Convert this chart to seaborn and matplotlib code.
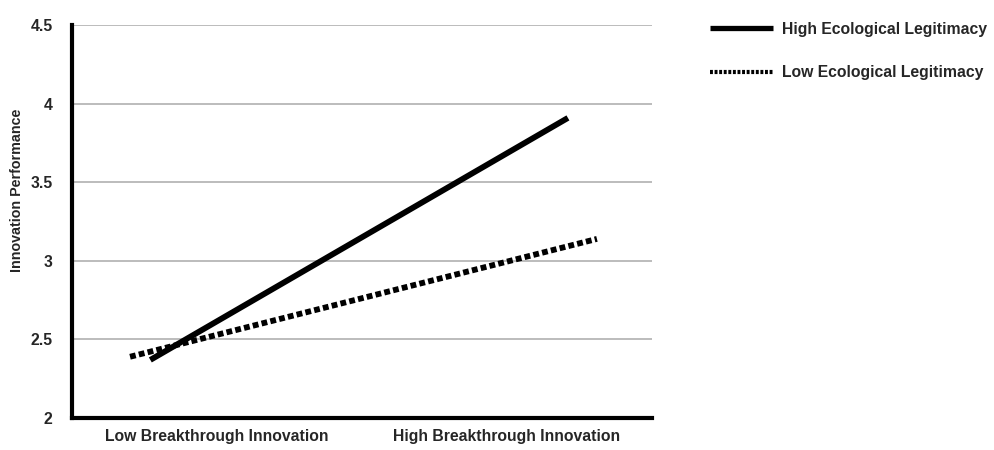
import pandas as pd
import matplotlib.pyplot as plt
import seaborn as sns
from matplotlib.lines import Line2D

sns.set_style("white")
plt.rcParams['font.family'] = ['Liberation Sans', 'DejaVu Sans']

## Data ##
categories = ["Low Breakthrough Innovation", "High Breakthrough Innovation"]
groups = ["High Ecological Legitimacy", "Low Ecological Legitimacy"]
x_high = [0.27, 1.71]
y_high = [2.37, 3.91]
x_low = [0.20, 1.81]
y_low = [2.39, 3.14]
y_ticks = [2, 2.5, 3, 3.5, 4, 4.5]
y_tick_labels = ["2", "2.5", "3", "3.5", "4", "4.5"]

df = pd.DataFrame({
    'x': x_high + x_low,
    'y': y_high + y_low,
    'group': [groups[0]] * len(x_high) + [groups[1]] * len(x_low),
})

## Plot ##
fig = plt.figure(figsize=(9.95, 4.5), dpi=100)
ax = fig.add_axes([0.0724, 0.071, 0.5829, 0.873])

for yv in y_ticks[1:]:
    ax.axhline(yv, color='#b0b0b0', lw=1.2, zorder=0)

sns.lineplot(data=df, x='x', y='y', hue='group', style='group',
             palette=['black', 'black'],
             dashes={groups[0]: '', groups[1]: (1, 0.55)},
             linewidth=4.2, ax=ax, legend=False)
for ln in ax.lines:
    ln.set_dash_capstyle('butt')
    ln.set_solid_capstyle('butt')

ax.set_xlim(0, 2)
ax.set_ylim(2, 4.5)
ax.set_yticks(y_ticks, y_tick_labels, fontweight='bold', fontsize=11.3)
ax.set_xticks([0.5, 1.5], categories, fontweight='bold', fontsize=11.3)
ax.set_xticks([1.0], minor=True)
ax.tick_params(axis='x', which='major', length=0, pad=8)
ax.tick_params(axis='x', which='minor', length=12, width=1, color='#a0a0a0')
ax.tick_params(axis='y', length=0, pad=14)

sns.despine(ax=ax, top=True, right=True)
ax.spines['left'].set_linewidth(3)
ax.spines['bottom'].set_linewidth(3)
ax.spines['left'].set_color('black')
ax.spines['bottom'].set_color('black')

ax.set_xlabel('')
ax.set_ylabel('Innovation Performance', fontweight='bold', fontsize=10.3)
ax.yaxis.set_label_coords(-0.083, 0.58)

handles = [Line2D([], [], color='black', lw=3.8, solid_capstyle='butt'),
           Line2D([], [], color='black', lw=3.0, linestyle=(0, (0.7, 0.4)),
                  dash_capstyle='butt')]
fig.legend(handles, groups, loc='upper left', bbox_to_anchor=(702 / 995, 1 - 14 / 450),
           bbox_transform=fig.transFigure, frameon=False, borderpad=0,
           handlelength=4.0, handletextpad=0.6, labelspacing=1.8,
           prop={'weight': 'bold', 'size': 11.3})

plt.savefig('out.png', dpi=100)
